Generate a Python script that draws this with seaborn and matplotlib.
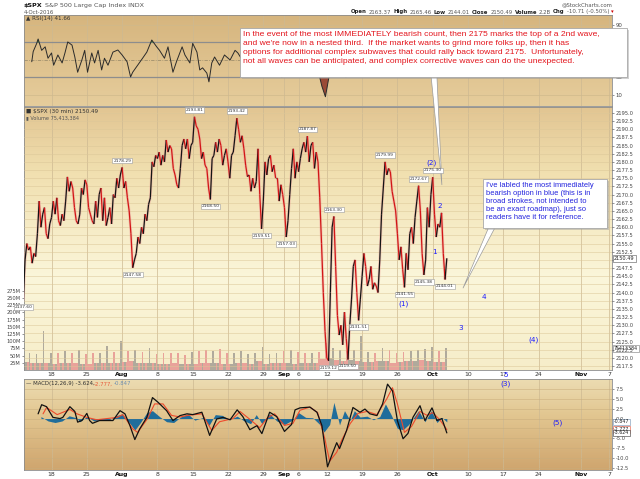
import numpy as np
import pandas as pd
import matplotlib
matplotlib.use("Agg")
import matplotlib.pyplot as plt
import seaborn as sns
from matplotlib.collections import LineCollection
from matplotlib.colors import LinearSegmentedColormap
from matplotlib.patches import Rectangle

# ---------------------------------------------------------------
# data.  x is a trading-day index:
# 0 = Mon 18 Jul 2016, weekends and Labor Day removed
# ---------------------------------------------------------------
first_day = -4          # Tue 12 Jul
steps_per_day = 4       # price sampled 4x per session

spx_prices = [
    2137.6, 2150.0, 2155.0, 2153.0,   # Jul 12
    2154.0, 2149.0, 2152.0, 2151.0,
    2158.0, 2168.0, 2160.0, 2164.0,
    2166.0, 2158.0, 2156.5, 2161.0,
    2163.0, 2168.0, 2164.0, 2169.0,   # Jul 18
    2162.0, 2160.5, 2164.0, 2162.0,
    2168.0, 2175.4, 2171.0, 2174.0,
    2172.0, 2166.0, 2162.0, 2161.0,
    2164.0, 2172.0, 2170.0, 2174.5,
    2173.0, 2166.0, 2164.0, 2162.0,   # Jul 25
    2161.0, 2168.0, 2163.0, 2170.0,
    2172.0, 2162.0, 2169.0, 2160.5,
    2163.0, 2166.0, 2161.0, 2170.0,
    2169.0, 2175.0, 2172.0, 2176.0,
    2178.3, 2172.0, 2174.0, 2169.0,   # Aug 1
    2165.0, 2158.0, 2147.6, 2150.0,
    2152.0, 2157.0, 2155.0, 2160.0,
    2158.0, 2164.0, 2162.0, 2167.0,
    2169.0, 2180.0, 2178.5, 2182.0,
    2181.0, 2183.0, 2179.0, 2182.0,   # Aug 8
    2180.0, 2186.7, 2183.0, 2185.0,
    2184.0, 2178.0, 2176.0, 2173.0,
    2172.0, 2178.0, 2185.0, 2187.0,
    2184.0, 2187.0, 2181.0, 2185.0,
    2186.0, 2193.8, 2191.0, 2190.0,   # Aug 15
    2187.0, 2181.0, 2183.0, 2179.0,
    2178.0, 2172.0, 2168.5, 2181.0,
    2182.0, 2186.0, 2183.0, 2187.0,
    2185.0, 2179.0, 2182.0, 2184.0,
    2180.0, 2175.0, 2182.0, 2183.0,   # Aug 22
    2188.0, 2193.4, 2190.0, 2186.0,
    2188.0, 2184.0, 2179.0, 2175.5,
    2176.0, 2171.0, 2175.0, 2172.0,
    2174.0, 2184.0, 2170.0, 2159.5,
    2168.0, 2180.0, 2176.0, 2181.0,   # Aug 29
    2182.0, 2177.0, 2179.0, 2175.0,
    2175.0, 2168.0, 2173.0, 2170.0,
    2166.0, 2157.0, 2162.0, 2170.0,
    2178.0, 2184.0, 2175.0, 2180.0,
    2177.0, 2181.0, 2184.0, 2186.0,   # Sep 6
    2183.0, 2187.9, 2180.0, 2185.0,
    2186.0, 2178.0, 2183.0, 2180.0,
    2169.0, 2155.0, 2140.0, 2128.0,
    2120.0, 2119.1, 2140.0, 2160.0,   # Sep 12
    2163.3, 2148.0, 2133.0, 2127.0,
    2130.0, 2124.0, 2134.0, 2126.0,
    2119.5, 2130.0, 2138.0, 2148.0,
    2150.0, 2140.0, 2131.5, 2138.0,
    2145.0, 2152.0, 2148.0, 2142.0,   # Sep 19
    2144.0, 2148.0, 2141.0, 2143.0,
    2142.0, 2140.0, 2150.0, 2164.0,
    2172.0, 2180.0, 2176.0, 2178.0,
    2177.0, 2171.0, 2168.0, 2165.0,
    2158.0, 2150.0, 2154.0, 2147.0,   # Sep 26
    2141.6, 2152.0, 2147.0, 2158.0,
    2160.0, 2155.0, 2163.0, 2168.0,
    2172.7, 2165.0, 2152.0, 2145.4,
    2150.0, 2166.0, 2160.0, 2170.0,
    2175.3, 2164.0, 2157.0, 2161.0,   # Oct 3
    2160.0, 2164.4, 2152.0, 2144.0,
    2150.5,
]

# volume per session (millions): quiet bars and the closing spike
vol_base_m = [28, 24, 26, 25,
              22, 24, 23, 25, 22,
              22, 23, 25, 24, 26,
              27, 30, 26, 24, 25,
              21, 22, 23, 22, 20,
              22, 24, 25, 23, 22,
              21, 23, 24, 22, 30,
              22, 23, 24, 25, 22,
              24, 23, 24, 38,
              40, 34, 32, 33, 30,
              28, 27, 32, 30, 26,
              29, 30, 31, 33, 30,
              27, 29]
vol_peak_m = [60, 55, 135, 60,
              60, 65, 60, 70, 55,
              60, 58, 83, 62, 100,
              65, 70, 62, 75, 55,
              60, 58, 60, 52, 62,
              65, 70, 65, 72, 60,
              58, 65, 55, 60, 80,
              55, 60, 66, 70, 62,
              58, 60, 62, 95,
              76, 70, 65, 68, 118,
              62, 60, 75, 70, 58,
              62, 65, 70, 72, 80,
              65, 75]

rsi_days = [-2.8, -2.6, -2.1, -1.9, -1.4, -0.9, -0.5, 0.0, 0.3, 0.9, 1.5, 1.9, 2.3, 2.9,
            3.3, 3.7, 4.3, 4.7, 5.1, 5.7, 6.1, 6.6, 7.1, 7.5, 8.0, 8.7, 9.4, 10.0, 10.7,
            11.2, 11.5, 12.2, 12.9, 13.5, 14.2, 14.9, 15.3, 16.0, 16.5, 17.2, 17.7, 18.5,
            18.9, 19.6, 20.0, 20.6, 21.0, 21.4, 22.0, 22.3, 22.7, 23.1, 23.8, 24.5, 25.3,
            26.0, 26.4, 27.4, 28.1, 28.8, 29.8, 30.9, 31.9, 32.6, 33.3, 34.2, 35.2, 36.2,
            37.0, 37.7, 38.3, 38.8, 39.4, 40.0, 40.6, 41.1, 41.7, 42.3, 43.1, 43.7, 44.4,
            45.1, 46.2, 47.1, 47.5, 48.2, 48.9, 49.3, 50.0, 50.7, 51.5, 52.0, 52.7, 53.3,
            54.0, 54.4, 55.0, 55.4, 55.8, 56.0]
rsi_vals = [48, 59.5, 69, 74, 61, 65, 52, 58, 44, 55.7, 46.6, 58, 70.6, 67,
            53.4, 36, 50, 61, 36, 58, 46.6, 61, 38.6, 52, 44, 59, 61.4, 55.7, 48,
            30.6, 36, 44, 52, 59, 72.8, 65, 61, 52, 65, 36, 48, 65,
            55.7, 46.6, 69, 59, 38.6, 41, 35, 25, 46.6, 53.4, 44, 55.7, 50,
            61, 58, 45, 31, 42, 32, 55, 50, 30, 35, 60, 58, 65,
            55, 40, 20, 8, 35, 62, 35, 38, 30, 55, 48, 38, 52,
            45, 50, 68, 70, 55, 40, 31, 35, 55, 60, 64, 35, 55,
            62, 45, 55, 52, 31, 41.66]

macd_days = [-1.9, -1.4, -0.7, 0.2, 1.2, 1.6, 2.6, 3.3, 3.7, 4.3, 5.0, 5.4, 5.8, 6.8, 7.8,
             8.7, 9.7, 10.4, 11.1, 11.8, 12.5, 13.5, 14.3, 15.1, 16.3, 17.2, 18.2, 19.2,
             20.0, 21.3, 22.4, 23.4, 24.3, 25.3, 26.3, 27.1, 28.1, 29.1, 29.8, 30.9, 31.9,
             33.0, 34.0, 34.5, 35.2, 36.6, 37.6, 38.3, 39.1, 39.8, 40.4, 40.8, 41.8, 42.7,
             43.7, 44.4, 45.1, 46.1, 46.9, 47.6, 48.3, 49.0, 49.8, 50.5, 51.2, 52.2, 52.9,
             53.9, 54.6, 55.3, 56.0]
macd_vals = [1.2, 3.5, 3.0, 0.3, 0.0, 0.3, 3.0, 1.8, -0.9, -0.5, 1.3, -0.5, -1.2, -0.5, -0.5,
             -0.5, 2.0, 1.2, -1.75, -5.3, -2.6, 0.3, 5.3, 4.1, 2.0, -0.5, 0.75, 1.2,
             1.0, 1.6, -4.25, -0.1, 0.3, -0.3, 2.2, 0.5, -2.8, -1.8, -3.8, 1.6, 0.5,
             -3.25, -1.5, 2.2, 2.7, 2.9, 1.6, -1.75, -12.2, -8.8, -6.1, -7.6, -3.0, 2.8,
             1.6, 2.4, 1.2, 0.75, 3.7, 8.7, 7.0, -0.5, -5.1, -3.75, 0.3, 3.25, -0.5,
             2.7, -0.5, 0.0, -3.624]
signal_days = [-1.2, -0.7, 0.8, 2.6, 3.6, 5.0, 6.4, 9.3, 10.1, 11.5, 12.2, 13.6, 14.6, 15.8,
               17.0, 18.2, 19.3, 21.3, 22.7, 23.8, 25.7, 26.7, 28.1, 29.5, 30.6, 31.6, 33.0,
               34.2, 35.2, 36.6, 37.7, 38.7, 39.4, 40.4, 41.1, 42.3, 43.4, 44.7, 46.1, 47.5,
               48.3, 49.0, 50.0, 51.0, 52.2, 53.2, 54.0, 55.0, 56.0]
signal_vals = [1.2, 2.8, 1.0, 2.3, 1.2, 0.3, -0.3, 0.3, 1.0, -2.6, -3.5, 0.0, 3.7, 3.7,
               0.8, 0.4, 0.8, 1.2, -3.0, -0.8, 0.0, 1.8, -0.2, -2.3, 0.2, 1.2, -1.75,
               -1.2, 2.1, 2.9, 1.5, -5.0, -10.8, -8.5, -5.5, -1.3, 1.3, 1.8, 1.0, 5.0,
               7.8, 3.7, -3.5, -2.0, 1.8, 0.8, 1.5, -0.3, -2.777]
hist_days = [-1.5, -0.5, 0.5, 1.5, 2.5, 3.5, 4.0, 5.0, 6.0, 7.0, 8.0, 9.0, 10.0, 11.0, 11.8,
             12.6, 13.5, 14.3, 15.3, 16.3, 17.3, 18.3, 19.3, 20.3, 21.5, 22.3, 23.2, 24.2,
             25.2, 26.3, 27.2, 28.2, 29.0, 29.8, 30.9, 31.9, 33.0, 34.2, 35.0, 36.0, 37.0,
             38.0, 38.6, 39.4, 40.0, 40.8, 41.5, 42.3, 42.9, 43.7, 44.7, 45.6, 46.5, 47.3,
             48.1, 49.0, 49.8, 50.6, 51.4, 52.0, 52.9, 53.8, 54.6, 55.3, 56.0]
hist_vals = [0.5, -0.6, -1.0, -0.6, 0.7, 0.2, -0.8, 0.5, -0.6, -0.3, -0.5, 0.6, 1.2, -1.0, -2.9,
             -1.0, 1.5, 2.0, 0.5, -0.8, -1.0, 0.4, 1.2, -0.4, 0.3, -1.75, 1.0, 0.8,
             -0.3, 0.6, -0.5, -1.3, 1.0, -1.3, 1.2, -0.6, -1.5, -0.3, 1.5, 0.3, 0.2,
             -1.5, -3.4, -1.5, 4.1, -1.6, 2.0, -0.5, 2.0, 0.4, 0.6, -0.3, 0.5, 3.7,
             1.0, -2.5, -2.8, -1.5, 0.5, 2.0, -0.8, 2.0, -1.0, 0.3, -0.847]

tick_days = [0, 5, 10, 15, 20, 25, 30, 33, 35, 39, 44, 49, 54, 59, 64, 69, 75, 79]
tick_labels = ["18", "25", "Aug", "8", "15", "22", "29", "Sep", "6", "12", "19", "26",
               "Oct", "10", "17", "24", "Nov", "7"]
month_names = ["Aug", "Sep", "Oct", "Nov"]

# swing high / low price flags
hl_days = [-4.0, 10.0, 11.5, 20.25, 22.5, 26.25, 29.75, 33.25, 36.25, 39.25, 40.0,
           42.0, 43.5, 47.25, 50.0, 52.0, 52.75, 54.0, 55.75]
hl_texts = ["2137.60", "2178.29", "2147.58", "2193.81", "2168.50", "2193.42", "2159.51",
            "2157.03", "2187.87", "2119.12", "2163.30", "2119.50", "2131.51", "2179.99",
            "2141.55", "2172.67", "2145.38", "2175.30", "2144.01"]
hl_above = [False, True, False, True, False, True, False, False, True, False, True,
            False, False, True, False, True, False, True, False]

# blue Elliott wave labels on the price panel
wave_days = [49.9, 53.9, 54.3, 55.0, 58.0, 61.2, 68.3, 64.3]
wave_prices = [2136.5, 2179.7, 2152.4, 2166.5, 2129.1, 2138.6, 2125.5, 2114.8]
wave_texts = ["(1)", "(2)", "1", "2", "3", "4", "(4)", "5"]
# and on the MACD panel
macd_wave_days = [64.3, 71.7]
macd_wave_vals = [8.75, -1.0]
macd_wave_texts = ["(3)", "(5)"]

red_note = ("In the event of the most IMMEDIATELY bearish count, then 2175 marks the top of a 2nd wave,\n"
            "and we're now in a nested third.  If the market wants to grind more folks up, then it has\n"
            "options for additional complex subwaves that could rally back toward 2175.  Unfortunately,\n"
            "not all waves can be anticipated, and complex corrective waves can do the unexpected.")
blue_note = ("I've labled the most immediately\n"
             "bearish option in blue (this is in\n"
             "broad strokes, not intended to\n"
             "be an exact roadmap), just so\n"
             "readers have it for reference.")

# ---------------------------------------------------------------
sns.set_theme(style="white")
plt.rcParams['font.family'] = ['DejaVu Sans']

W, H = 640, 479
fig = plt.figure(figsize=(W / 100, H / 100), dpi=100)
fig.patch.set_facecolor('white')


def box(x0, y0, x1, y1):
    # pixel box (top-left origin) -> figure fraction rect
    return [x0 / W, 1 - y1 / H, (x1 - x0) / W, (y1 - y0) / H]


L, R = 24, 612
ax_rsi = fig.add_axes(box(L, 15, R, 106))
ax_vol = fig.add_axes(box(L, 107, R, 370))
ax_price = ax_vol.twinx()
ax_macd = fig.add_axes(box(L, 379, R, 470))

xlim = (-3.9, 79.4)
rsi_lim = (-2.6, 101.4)
price_lim = (2116.3, 2196.8)
vol_lim = (0, 913e6)
macd_lim = (-13.0, 10.0)


def paint(ax, stops, ylim):
    cmap = LinearSegmentedColormap.from_list('bg', stops)
    ax.imshow(np.linspace(0, 1, 256).reshape(-1, 1), cmap=cmap, aspect='auto', origin='lower',
              extent=(xlim[0], xlim[1], ylim[0], ylim[1]), zorder=-10, interpolation='bilinear')


paint(ax_rsi, [(0, '#e6cd9c'), (1, '#d6b57e')], rsi_lim)
paint(ax_vol, [(0, '#f6edc9'), (0.35, '#fbf6da'), (0.75, '#f1e0b0'), (1, '#e2c592')], vol_lim)
paint(ax_macd, [(0, '#cfa56e'), (0.6, '#e2c690'), (1, '#ecdcb2')], macd_lim)

grid_v = '#cdb992'
for ax in (ax_rsi, ax_vol, ax_macd):
    for d in tick_days:
        ax.axvline(d, color=grid_v, lw=0.5, zorder=-5)
    for s in ax.spines.values():
        s.set_color('#8c8c8c')
        s.set_linewidth(0.6)
for s in ax_price.spines.values():
    s.set_visible(False)

# ---- RSI ----
rsi_t = np.array(rsi_days)
rsi_v = np.array(rsi_vals)
for lvl, c, ls, lw in [(10, '#cfb98c', '-', 0.5), (90, '#cfb98c', '-', 0.5),
                       (30, '#8d8d8d', '-', 0.9), (70, '#8d8d8d', '-', 0.9),
                       (50, '#a08f6c', (0, (4, 1.5, 1, 1.5)), 0.6)]:
    ax_rsi.axhline(lvl, color=c, ls=ls, lw=lw, zorder=-4)
ax_rsi.fill_between(rsi_t, rsi_v, 70, where=rsi_v > 70, interpolate=True, color='#3d8a3d', lw=0)
ax_rsi.fill_between(rsi_t, rsi_v, 30, where=rsi_v < 30, interpolate=True, color='#9a4a36', lw=0)
sns.lineplot(x=rsi_t, y=rsi_v, ax=ax_rsi, color='#2a2a2a', linewidth=0.7, sort=False)
ax_rsi.set_ylim(rsi_lim)
ax_rsi.set_yticks([10, 30, 50, 70, 90])
ax_rsi.yaxis.tick_right()
ax_rsi.tick_params(axis='y', labelsize=3.9, length=1.5, pad=1, colors='#444444', width=0.4)
ax_rsi.text(0.004, 0.985, "▲ RSI(14) 41.66", transform=ax_rsi.transAxes, fontsize=4.1,
            color='#333333', va='top', ha='left')

# ---- price + volume ----
t = first_day + np.arange(len(spx_prices)) / steps_per_day
price = np.array(spx_prices)
up = np.diff(price) >= 0

vol = []
for base, peak in zip(vol_base_m, vol_peak_m):
    vol += [base, base, base, peak]
vol = np.array(vol) * 1e6
ax_vol.bar(t[:-1] + 0.125, vol, width=0.25, color=np.where(up, '#b0aa9c', '#e9a29a'),
           linewidth=0, zorder=2)
ax_vol.set_ylim(vol_lim)
vticks = np.arange(25, 276, 25) * 1e6
ax_vol.set_yticks(vticks)
ax_vol.set_yticklabels([f"{int(v / 1e6)}M" for v in vticks])
ax_vol.yaxis.tick_left()
ax_vol.tick_params(axis='y', labelsize=3.7, length=1.5, pad=1, colors='#444444', width=0.4)

for p in np.arange(2117.5, 2195.1, 2.5):
    ax_price.axhline(p, color='#dcc798', lw=0.45, alpha=0.8, zorder=0)
pts = np.column_stack([t, price])
segs = np.stack([pts[:-1], pts[1:]], axis=1)
ax_price.add_collection(LineCollection(segs, colors='#ec9c98', linewidths=2.0, alpha=0.45, zorder=3))
ax_price.add_collection(LineCollection(segs, colors=np.where(up, '#141414', '#d21616'),
                                       linewidths=0.9, zorder=4))
ax_price.set_ylim(price_lim)
ax_price.set_yticks(np.arange(2117.5, 2195.1, 2.5))
ax_price.set_yticklabels([f"{v:.1f}" for v in np.arange(2117.5, 2195.1, 2.5)])
ax_price.tick_params(axis='y', labelsize=3.7, length=1.5, pad=1, colors='#444444', width=0.4)

for d, txt, above in zip(hl_days, hl_texts, hl_above):
    ax_price.annotate(txt, xy=(d, float(txt)), xytext=(0, 3.5 if above else -3.5),
                      textcoords='offset points', ha='center', va='bottom' if above else 'top',
                      fontsize=3.2, color='#333333', zorder=6, annotation_clip=False,
                      bbox=dict(boxstyle='square,pad=0.18', fc='white', ec='#9a9a9a', lw=0.4))

for d, p, txt in zip(wave_days, wave_prices, wave_texts):
    ax_price.text(d, p, txt, color='#1a1aff', fontsize=5.2, ha='center', va='center',
                  zorder=7, clip_on=False)

ax_price.annotate("2150.49", xy=(1, 2150.49), xycoords=('axes fraction', 'data'),
                  xytext=(1.5, 0), textcoords='offset points', ha='left', va='center',
                  fontsize=3.6, color='#222222', annotation_clip=False, zorder=8,
                  bbox=dict(boxstyle='square,pad=0.2', fc='white', ec='#555555', lw=0.4))
ax_vol.annotate("75413384", xy=(1, 75.4e6), xycoords=('axes fraction', 'data'),
                xytext=(1.5, 0), textcoords='offset points', ha='left', va='center',
                fontsize=3.4, color='#222222', annotation_clip=False, zorder=8,
                bbox=dict(boxstyle='square,pad=0.2', fc='white', ec='#777777', lw=0.4))

ax_vol.text(0.004, 0.992, "■ $SPX (30 min) 2150.49", transform=ax_vol.transAxes, fontsize=4.1,
            color='#333333', va='top', ha='left', zorder=9)
ax_vol.text(0.004, 0.968, "▮ Volume 75,413,384", transform=ax_vol.transAxes, fontsize=3.6,
            color='#555555', va='top', ha='left', zorder=9)

# ---- MACD ----
for v in np.arange(-12.5, 7.6, 2.5):
    ax_macd.axhline(v, color='#c9ad7c', lw=0.45, alpha=0.8, zorder=-4)
ax_macd.fill_between(hist_days, hist_vals, 0, color='#1f6d9b', lw=0, zorder=2)
sns.lineplot(x=signal_days, y=signal_vals, ax=ax_macd, color='#ee4a2c', linewidth=0.8, sort=False)
sns.lineplot(x=macd_days, y=macd_vals, ax=ax_macd, color='#111111', linewidth=0.9, sort=False)
ax_macd.set_ylim(macd_lim)
mt = np.arange(-12.5, 7.6, 2.5)
ax_macd.set_yticks(mt)
ax_macd.set_yticklabels([f"{v:.1f}" for v in mt])
ax_macd.yaxis.tick_right()
ax_macd.tick_params(axis='y', labelsize=3.7, length=1.5, pad=1, colors='#444444', width=0.4)
for d, v, txt in zip(macd_wave_days, macd_wave_vals, macd_wave_texts):
    ax_macd.text(d, v, txt, color='#1a1aff', fontsize=5.2, ha='center', va='center', zorder=7)
for val, txt, ec in [(-0.847, "-0.847", '#6f8fb0'), (-2.777, "-2.777", '#e04a30'),
                     (-3.624, "-3.624", '#333333')]:
    ax_macd.annotate(txt, xy=(1, val), xycoords=('axes fraction', 'data'),
                     xytext=(1.5, 0), textcoords='offset points', ha='left', va='center',
                     fontsize=3.4, color='#222222', annotation_clip=False, zorder=8,
                     bbox=dict(boxstyle='square,pad=0.15', fc='white', ec=ec, lw=0.4))

# ---- shared x axis ----
for ax in (ax_rsi, ax_vol, ax_price, ax_macd):
    ax.set_xlim(xlim)
    ax.set_xlabel('')
    ax.set_ylabel('')
for ax, show in ((ax_rsi, False), (ax_vol, True), (ax_macd, True)):
    ax.set_xticks(tick_days)
    ax.set_xticklabels(tick_labels if show else [])
    ax.tick_params(axis='x', length=0, pad=1.5, labelsize=4.4, colors='#333333')
    for lab in ax.get_xticklabels():
        if lab.get_text() in month_names:
            lab.set_fontweight('bold')
            lab.set_color('#111111')

# ---- header ----
renderer = fig.canvas.get_renderer()


def text_run(x_px, y_px, parts, size, align='left'):
    x = x_px
    for s, weight, color in (parts if align == 'left' else parts[::-1]):
        tt = fig.text(x / W, 1 - y_px / H, s, fontsize=size, fontweight=weight, color=color,
                      ha=align, va='center')
        w = tt.get_window_extent(renderer).width + 2.0
        x = x + w if align == 'left' else x - w


text_run(24, 5, [("$SPX", 'bold', '#111111'), ("S&P 500 Large Cap Index INDX", 'normal', '#555555')], 4.6)
fig.text(24 / W, 1 - 12.5 / H, "4-Oct-2016", fontsize=3.9, color='#555555', va='center')
fig.text(612 / W, 1 - 4.5 / H, "@StockCharts.com", fontsize=3.9, color='#555555', va='center', ha='right')
text_run(614, 12, [("Open", 'bold', '#222222'), ("2163.37", 'normal', '#555555'),
                   ("High", 'bold', '#222222'), ("2165.46", 'normal', '#555555'),
                   ("Low", 'bold', '#222222'), ("2144.01", 'normal', '#555555'),
                   ("Close", 'bold', '#222222'), ("2150.49", 'normal', '#555555'),
                   ("Volume", 'bold', '#222222'), ("2.2B", 'normal', '#555555'),
                   ("Chg", 'bold', '#222222'), ("-10.71 (-0.50%)", 'normal', '#555555'),
                   ("▾", 'normal', '#cc0000')], 3.9, align='right')
ax_macd.text(0.004, 0.975, "— MACD(12,26,9) -3.624,", transform=ax_macd.transAxes, fontsize=3.9,
             color='#333333', va='top', ha='left')
ax_macd.text(0.118, 0.975, "-2.777,", transform=ax_macd.transAxes, fontsize=3.9,
             color='#e85a3a', va='top', ha='left')
ax_macd.text(0.153, 0.975, "-0.847", transform=ax_macd.transAxes, fontsize=3.9,
             color='#6f8fb0', va='top', ha='left')

# ---- call-out notes ----
def note(x0, y0, x1, y1, text, color, size, spacing, tip_day, tip_price, root):
    fig.add_artist(Rectangle((x0 / W + 2 / W, 1 - y1 / H - 2 / H), (x1 - x0) / W, (y1 - y0) / H,
                             transform=fig.transFigure, fc='#9a9a9a', ec='none', alpha=0.45, zorder=19))
    fig.add_artist(Rectangle((x0 / W, 1 - y1 / H), (x1 - x0) / W, (y1 - y0) / H,
                             transform=fig.transFigure, fc='white', ec='#a8a8a8', lw=0.6, zorder=20))
    fig.text((x0 + 3) / W, 1 - (y0 + 2.5) / H, text, fontsize=size, color=color, va='top', ha='left',
             family=['Liberation Sans', 'DejaVu Sans'], linespacing=spacing, zorder=21)
    ax_price.annotate('', xy=(tip_day, tip_price), xycoords='data',
                      xytext=(root, H - y1 + 1), textcoords='figure pixels', annotation_clip=False,
                      arrowprops=dict(arrowstyle='wedge,tail_width=0.35,shrink_factor=0.5',
                                      fc='white', ec='#9a9a9a', lw=0.5, shrinkA=0, shrinkB=0))


note(240, 28, 627, 77, red_note, '#e3141c', 6.1, 1.42, 55.3, 2173.0, 434)
note(483, 179, 607, 228, blue_note, '#2222dd', 5.4, 1.2, 58.3, 2141.4, 492)

fig.savefig("out.png", dpi=100, facecolor='white')
